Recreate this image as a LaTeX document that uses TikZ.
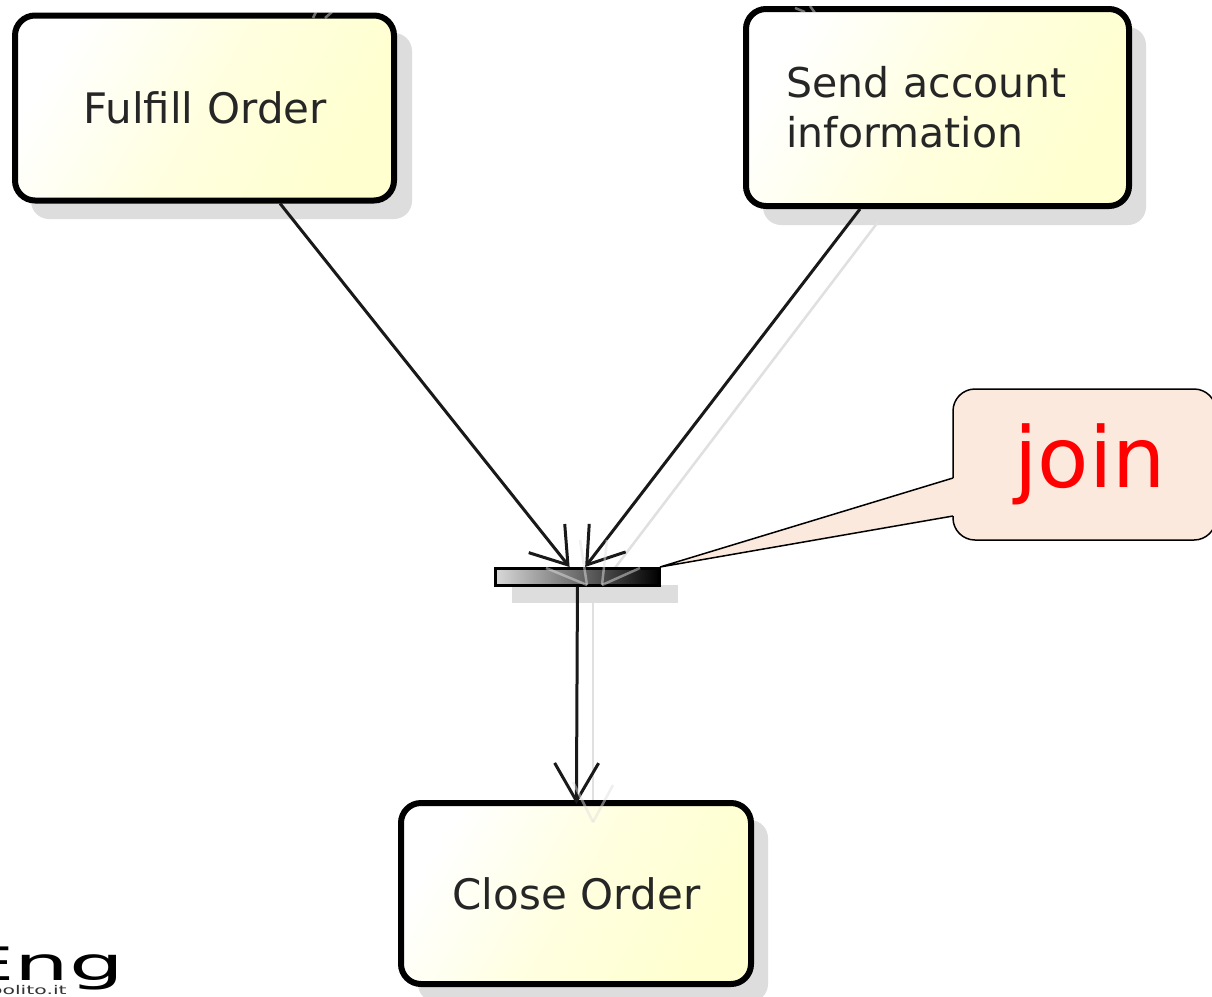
\documentclass[tikz,border=0pt]{standalone}
\usepackage{fontspec}
\setmainfont{DejaVu Sans}
\usetikzlibrary{arrows.meta,calc}
\definecolor{boxyellow}{HTML}{FFFFCF}
\definecolor{boxshadow}{HTML}{DDDDDD}
\definecolor{calloutfill}{HTML}{FBE9DD}
\definecolor{joinred}{HTML}{FF0000}
\tikzset{
  x=1pt,y=-1pt,
  action/.style={draw=black,line width=6pt,rounded corners=20pt,left color=white,right color=boxyellow,middle color=boxyellow!65,shading angle=60,
    inner sep=0pt,align=left,font=\fontsize{42}{50}\selectfont,text=black!85},
  flow/.style={draw=black!90,line width=3pt,-{Straight Barb[length=34pt,width=46pt,line width=3pt]}},
  flowdown/.style={draw=black!90,line width=3pt,shorten >=-4pt,-{Straight Barb[length=38pt,width=44pt,line width=3pt]}},
  ghost/.style={draw=black!12,line width=2.5pt},
  ghosttip/.style={draw=black!12,line width=2.5pt,opacity=.5}
}
\begin{document}
\begin{tikzpicture}
\useasboundingbox (0,0) rectangle (1212,996);
\clip (0,0) rectangle (1212,996);
\fill[white] (0,0) rectangle (1212,996);
% shadows
\fill[boxshadow,rounded corners=18pt] (31,33) rectangle (412,219);
\fill[boxshadow,rounded corners=18pt] (763,27) rectangle (1146,225);
\fill[boxshadow,rounded corners=18pt] (418,820) rectangle (768,1002);
\fill[boxshadow] (512,585) rectangle (678,603);
% ghost connectors
\coordinate (gf) at (878,222);
\coordinate (gj) at (602,585);
\coordinate (gb) at (593,603);
\coordinate (gc) at (593,822);
\draw[ghost] (gf) -- (gj);
\draw[ghost] (gb) -- (gc);
% action nodes
\node[action,minimum width=379pt,minimum height=185pt,text width=242pt] (fulfill) at (204.5,108) {\mbox{Fulfill Order}};
\node[action,minimum width=383pt,minimum height=197pt,text width=302pt,font=\fontsize{41}{50}\selectfont] (send) at (937.5,107.5) {Send account\\information};
\node[action,minimum width=350pt,minimum height=181pt,text width=247pt] (close) at (576,893.5) {\mbox{Close Order}};
% join bar
\node[draw=black,line width=3pt,left color=black!15,right color=black,minimum width=164pt,minimum height=17pt,inner sep=0pt] (bar) at (577.5,577) {};
% connectors
\draw[flow] (fulfill) -- (bar);
\draw[flow] (send) -- (bar);
\draw[flowdown] (bar) -- (close);
% ghost arrow tips
\coordinate (t1) at (587,585);
\coordinate (t2) at (602,585);
\coordinate (t3) at (593,822);
\foreach \p/\q in {t1/{(580,540)},t1/{(546,568)},t2/{(607,540)},t2/{(640,568)},t3/{(573,782)},t3/{(613,785)}}{\draw[ghosttip] (\p) -- \q;}
\draw[ghosttip] (313,18) -- (316,12);
\draw[ghosttip] (325,18) -- (332,12);
\draw[ghosttip] (795,8) -- (805,12);
\draw[ghosttip] (810,6) -- (815,13);
% callout
\draw[draw=black,line width=1.5pt,fill=calloutfill,rounded corners=22pt]
  (953,478) -- (953,389) -- (1216,389) -- (1216,540) -- (953,540) -- (953,516);
\fill[calloutfill] (954,477) rectangle (960,517);
\path[draw=black,line width=1.5pt,fill=calloutfill,line join=miter] (953,478) -- (660,567) -- (953,516);
\fill[calloutfill] (953,479) rectangle (956,515);
\node[text=joinred,font=\fontsize{84}{90}\selectfont,inner sep=0pt] (joinlabel) at (1090,464) {join};
% logo fragment
\node[font=\fontsize{64}{64}\selectfont,inner sep=0pt,anchor=base west,text=black,xscale=1.35,yscale=.72] (logo) at (-40,980) {Eng};
\node[font=\fontsize{12}{12}\selectfont,inner sep=0pt,anchor=base east,text=black!80,xscale=1.7] (logosub) at (67,994) {polito.it};
\end{tikzpicture}
\end{document}
